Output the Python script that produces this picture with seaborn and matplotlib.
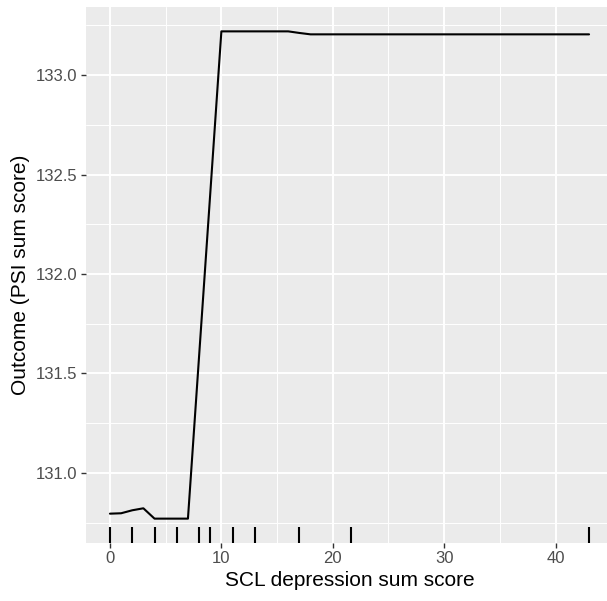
import numpy as np
import pandas as pd
import matplotlib
matplotlib.use("Agg")
import matplotlib.pyplot as plt
from matplotlib.ticker import MultipleLocator, FixedLocator
import seaborn as sns

# ---- data ----
scl_grid = list(range(0, 44))
psi_low = [130.795, 130.797, 130.812, 130.822, 130.770, 130.770, 130.770, 130.770,
           131.587, 132.403]
psi_high = [133.220] * 7 + [133.212] + [133.205] * 26
psi_pred = psi_low + psi_high
rug_deciles = [0, 2, 4, 6, 8, 9, 11, 13, 17, 21.6, 43]
x_ticks = [0, 10, 20, 30, 40]
y_ticks = [131.0, 131.5, 132.0, 132.5, 133.0]

df = pd.DataFrame({"scl": scl_grid, "psi": psi_pred})

sns.set_theme(style="darkgrid")
plt.rcParams["font.family"] = ["Liberation Sans", "DejaVu Sans"]

fig = plt.figure(figsize=(6.07, 6.01), dpi=100)
ax = fig.add_axes([86 / 607, 58 / 601, 527 / 607, 536 / 601])
ax.set_facecolor("#EBEBEB")

sns.lineplot(data=df, x="scl", y="psi", color="black", linewidth=1.5, ax=ax, zorder=3)
sns.rugplot(x=rug_deciles, height=0.03, color="black", linewidth=1.5, ax=ax, zorder=3)

ax.set_xlim(-2.15, 45.15)
ax.set_ylim(130.6475, 133.3425)
ax.xaxis.set_major_locator(FixedLocator(x_ticks))
ax.yaxis.set_major_locator(FixedLocator(y_ticks))
ax.xaxis.set_minor_locator(FixedLocator([5, 15, 25, 35, 45]))
ax.yaxis.set_minor_locator(FixedLocator([130.75, 131.25, 131.75, 132.25, 132.75, 133.25]))
ax.set_xticklabels([str(v) for v in x_ticks])
ax.set_yticklabels([f"{v:.1f}" for v in y_ticks])

ax.grid(which="major", color="white", linewidth=1.4)
ax.grid(which="minor", color="white", linewidth=0.7)
ax.set_axisbelow(True)
for s in ax.spines.values():
    s.set_visible(False)

ax.tick_params(axis="both", which="major", length=3.6, width=1.0, color="#333333",
               labelcolor="#4D4D4D", labelsize=12, pad=2.5, bottom=True, left=True)
ax.tick_params(axis="both", which="minor", length=0)

ax.set_xlabel("SCL depression sum score", fontsize=15, color="black", labelpad=3)
ax.set_ylabel("Outcome (PSI sum score)", fontsize=15, color="black", labelpad=4)

fig.savefig("out.png", dpi=100)
